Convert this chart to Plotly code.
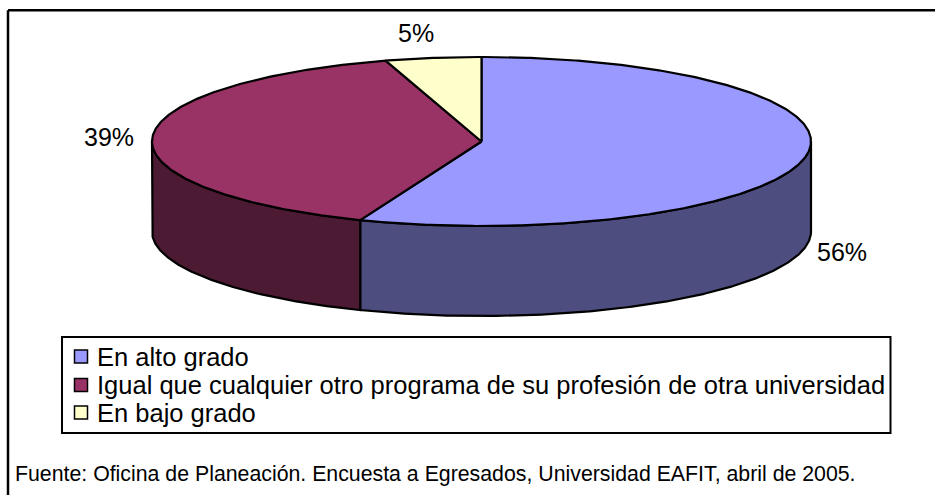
import numpy as np
import plotly.graph_objects as go

categories = ["En alto grado",
              "Igual que cualquier otro programa de su profesión de otra universidad",
              "En bajo grado"]
values = [56.0, 39.3, 4.7]
top_colors = ["#9999FF", "#993366", "#FFFFCC"]
wall_colors = ["#4D4D80", "#4D1A33", "#808066"]
source_note = "Fuente: Oficina de Planeación. Encuesta a Egresados, Universidad EAFIT, abril de 2005."

CX, CY, RX, RY, DEPTH = 481.5, 141.5, 329.5, 84.5, 90
LW = 2.2
FONT = "Liberation Sans"

def rim(a0, a1, dy=0):
    t = np.radians(np.linspace(a0, a1, max(int(abs(a1 - a0) * 2), 2)))
    return CX + RX * np.sin(t), CY + dy - RY * np.cos(t)

shares = np.array(values) / sum(values) * 360
ends = np.cumsum(shares)
starts = ends - shares

fig = go.Figure()

for i in range(3):
    a0, a1 = max(starts[i], 90), min(ends[i], 270)
    if a1 <= a0:
        continue
    x0, y0 = rim(a0, a1)
    x1, y1 = rim(a1, a0, DEPTH)
    fig.add_trace(go.Scatter(x=np.r_[x0, x1, x0[0]], y=np.r_[y0, y1, y0[0]], mode="lines",
                             fill="toself", fillcolor=wall_colors[i],
                             line=dict(color="black", width=LW),
                             showlegend=False, hoverinfo="skip"))
for i in range(3):
    x0, y0 = rim(starts[i], ends[i])
    fig.add_trace(go.Scatter(x=np.r_[CX, x0, CX], y=np.r_[CY, y0, CY], mode="lines",
                             fill="toself", fillcolor=top_colors[i],
                             line=dict(color="black", width=LW),
                             showlegend=False, hoverinfo="skip"))

# legend box drawn in place so that its spacing matches the original
legend_y = [356.5, 385, 412.5]
fig.add_trace(go.Scatter(x=[81] * 3, y=legend_y, mode="markers", showlegend=False, hoverinfo="skip",
                         marker=dict(symbol="square", size=13, color=top_colors,
                                     line=dict(color="black", width=1.5))))
for name, ly in zip(categories, legend_y):
    fig.add_annotation(x=94.5, y=ly, xanchor="left", text=name, showarrow=False,
                       font=dict(size=25.5, color="black", family=FONT))

label_pos = [(842, 252), (109, 137), (416, 33)]
for v, (lx, ly) in zip(values, label_pos):
    fig.add_annotation(x=lx, y=ly, text=f"{round(v)}%", showarrow=False,
                       font=dict(size=25, color="black", family=FONT))
fig.add_annotation(x=13, y=474, xanchor="left", text=source_note, showarrow=False,
                   font=dict(size=21.3, color="black", family=FONT))

fig.update_layout(
    width=935, height=495, margin=dict(l=0, r=0, t=0, b=0),
    paper_bgcolor="white", plot_bgcolor="white", showlegend=False,
    xaxis=dict(range=[0, 935], visible=False, fixedrange=True),
    yaxis=dict(range=[495, 0], visible=False, fixedrange=True),
    shapes=[dict(type="line", xref="x", yref="y", x0=8, y0=10.3, x1=935, y1=10.3,
                 line=dict(color="black", width=2.5), layer="below"),
            dict(type="line", xref="x", yref="y", x0=8, y0=10.3, x1=8, y1=495,
                 line=dict(color="black", width=2.5), layer="below"),
            dict(type="rect", xref="x", yref="y", x0=62, y0=337, x1=890.5, y1=433,
                 fillcolor="white", line=dict(color="black", width=2), layer="below")],
)
fig.write_html("out.html", post_script="document.body.style.margin='0';",
               config={"displayModeBar": False})
